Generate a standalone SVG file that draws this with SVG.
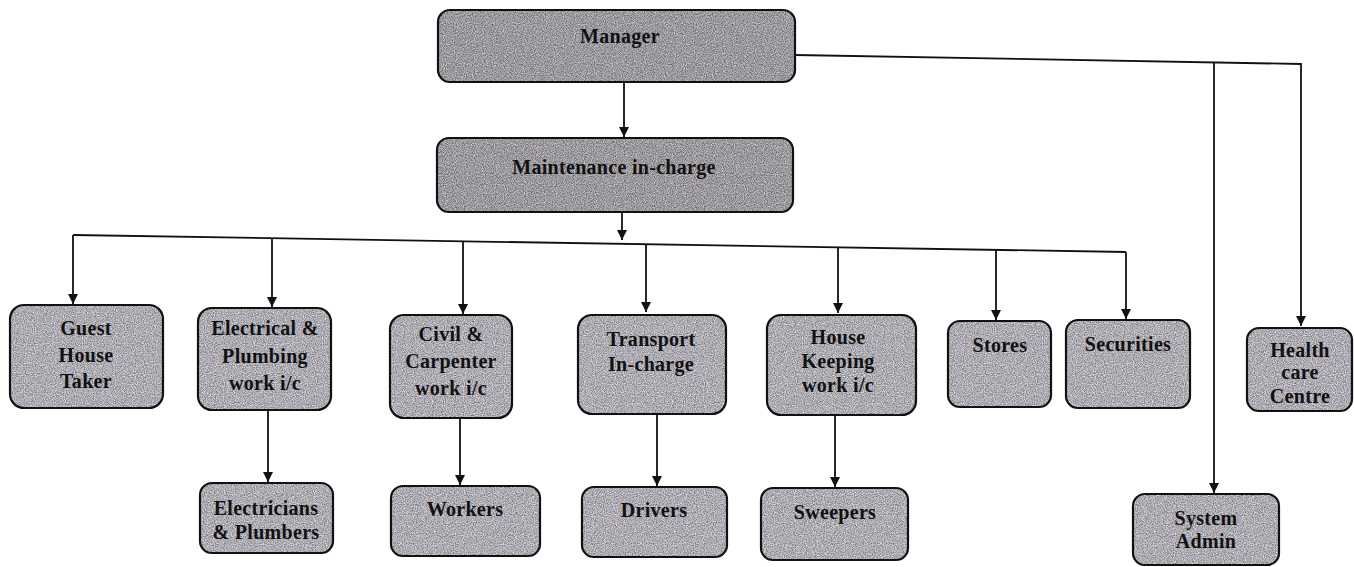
<svg xmlns="http://www.w3.org/2000/svg" width="1354" height="567" viewBox="0 0 1354 567">
<style>
.box{fill:url(#tex);stroke:#111;stroke-width:2.2}
.dark{fill:url(#tex2)}
.t{font-family:"Liberation Serif","Times New Roman",serif;font-weight:bold;font-size:20px;letter-spacing:0.3px;fill:#111;text-anchor:middle}
.c{fill:none;stroke:#111;stroke-width:1.8}
</style>
<defs>
<filter id="noise" x="0" y="0" width="100%" height="100%" color-interpolation-filters="sRGB">
<feTurbulence type="fractalNoise" baseFrequency="0.9" numOctaves="2" seed="5"/>
<feColorMatrix type="matrix" values="0.7 0 0 0 0.33  0.7 0 0 0 0.32  0.7 0 0 0 0.35  0 0 0 0 1"/>
</filter>
<filter id="noise2" x="0" y="0" width="100%" height="100%" color-interpolation-filters="sRGB">
<feTurbulence type="fractalNoise" baseFrequency="0.9" numOctaves="2" seed="9"/>
<feColorMatrix type="matrix" values="0.7 0 0 0 0.26  0.7 0 0 0 0.25  0.7 0 0 0 0.27  0 0 0 0 1"/>
</filter>
<pattern id="tex" patternUnits="userSpaceOnUse" width="240" height="240">
<rect width="240" height="240" fill="#aaa8ab" filter="url(#noise)"/>
</pattern>
<pattern id="tex2" patternUnits="userSpaceOnUse" width="240" height="240">
<rect width="240" height="240" fill="#999799" filter="url(#noise2)"/>
</pattern>
<marker id="ah" viewBox="0 0 10 10" refX="10" refY="5" markerWidth="10" markerHeight="10" markerUnits="userSpaceOnUse" orient="auto">
<path d="M0,0 L10,5 L0,10 Z" fill="#111"/>
</marker>
</defs>
<rect width="1354" height="567" fill="#fff"/>
<g id="connectors">
<line class="c" x1="624" y1="82" x2="624" y2="137" marker-end="url(#ah)"/>
<line class="c" x1="622" y1="212" x2="622" y2="240" marker-end="url(#ah)"/>
<line class="c" x1="73" y1="235" x2="1126" y2="252"/>
<line class="c" x1="73" y1="235" x2="73" y2="304" marker-end="url(#ah)"/>
<line class="c" x1="272" y1="238" x2="272" y2="307" marker-end="url(#ah)"/>
<line class="c" x1="463" y1="241" x2="463" y2="314" marker-end="url(#ah)"/>
<line class="c" x1="646" y1="244" x2="646" y2="312" marker-end="url(#ah)"/>
<line class="c" x1="838" y1="247" x2="838" y2="313" marker-end="url(#ah)"/>
<line class="c" x1="996" y1="250" x2="996" y2="320" marker-end="url(#ah)"/>
<line class="c" x1="1126" y1="252" x2="1126" y2="319" marker-end="url(#ah)"/>
<polyline class="c" points="795,55 1301,64 1301,326" marker-end="url(#ah)"/>
<line class="c" x1="1214" y1="62" x2="1214" y2="493" marker-end="url(#ah)"/>
<line class="c" x1="268" y1="410" x2="268" y2="482" marker-end="url(#ah)"/>
<line class="c" x1="460" y1="418" x2="460" y2="485" marker-end="url(#ah)"/>
<line class="c" x1="657" y1="414" x2="657" y2="486" marker-end="url(#ah)"/>
<line class="c" x1="835" y1="415" x2="835" y2="487" marker-end="url(#ah)"/>
</g>
<g id="manager"><rect class="box dark" x="438" y="10" width="357" height="72" rx="12"/><text class="t" x="620" y="43">Manager</text></g>
<g id="maintenance"><rect class="box dark" x="437" y="138" width="356" height="74" rx="12"/><text class="t" x="614" y="174">Maintenance in-charge</text></g>
<g id="guest"><rect class="box" x="10" y="305" width="153" height="103" rx="14"/><text class="t" x="86" y="335">Guest</text><text class="t" x="86" y="362">House</text><text class="t" x="86" y="388">Taker</text></g>
<g id="electrical"><rect class="box" x="198" y="308" width="133" height="102" rx="14"/><text class="t" x="265" y="335">Electrical &amp;</text><text class="t" x="265" y="363">Plumbing</text><text class="t" x="265" y="390">work i/c</text></g>
<g id="civil"><rect class="box" x="390" y="315" width="122" height="103" rx="14"/><text class="t" x="451" y="341">Civil &amp;</text><text class="t" x="451" y="368">Carpenter</text><text class="t" x="451" y="395">work i/c</text></g>
<g id="transport"><rect class="box" x="578" y="315" width="148" height="99" rx="14"/><text class="t" x="651" y="346">Transport</text><text class="t" x="651" y="371">In-charge</text></g>
<g id="housekeeping"><rect class="box" x="767" y="315" width="149" height="100" rx="14"/><text class="t" x="838" y="344">House</text><text class="t" x="838" y="368">Keeping</text><text class="t" x="838" y="392">work i/c</text></g>
<g id="stores"><rect class="box" x="948" y="321" width="103" height="86" rx="12"/><text class="t" x="1000" y="352">Stores</text></g>
<g id="securities"><rect class="box" x="1066" y="320" width="124" height="88" rx="12"/><text class="t" x="1128" y="351">Securities</text></g>
<g id="health"><rect class="box" x="1247" y="328" width="105" height="83" rx="12"/><text class="t" x="1300" y="357">Health</text><text class="t" x="1300" y="379">care</text><text class="t" x="1300" y="403">Centre</text></g>
<g id="sysadmin"><rect class="box" x="1133" y="494" width="146" height="71" rx="12"/><text class="t" x="1206" y="525">System</text><text class="t" x="1206" y="548">Admin</text></g>
<g id="electricians"><rect class="box" x="200" y="483" width="133" height="70" rx="12"/><text class="t" x="266" y="515">Electricians</text><text class="t" x="266" y="539">&amp; Plumbers</text></g>
<g id="workers"><rect class="box" x="391" y="486" width="149" height="70" rx="12"/><text class="t" x="465" y="516">Workers</text></g>
<g id="drivers"><rect class="box" x="582" y="487" width="145" height="70" rx="12"/><text class="t" x="654" y="517">Drivers</text></g>
<g id="sweepers"><rect class="box" x="761" y="488" width="147" height="72" rx="12"/><text class="t" x="835" y="519">Sweepers</text></g>
</svg>
